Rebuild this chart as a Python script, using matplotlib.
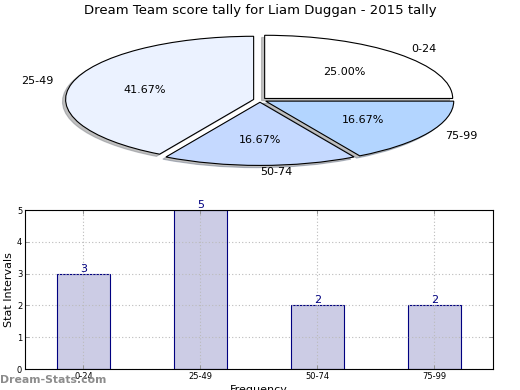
import matplotlib
matplotlib.use("Agg")
import matplotlib.pyplot as plt

categories = ["0-24", "25-49", "50-74", "75-99"]
counts = [3, 5, 2, 2]
pie_colors = ["#ffffff", "#ebf2ff", "#c5d9ff", "#b3d5ff"]
yticks = [0, 1, 2, 3, 4, 5]

fig = plt.figure(figsize=(5.2, 3.9), dpi=100)

# Pie
axp = fig.add_axes([0.048, 0.541, 0.904, 0.405])
wedges, texts, autotexts = axp.pie(
    counts, labels=categories, colors=pie_colors, autopct="%1.2f%%",
    explode=[0.035] * len(counts),
    shadow={"ox": -0.012, "oy": -0.025, "shade": 0.45, "facecolor": "#808080"},
    startangle=0,
    wedgeprops=dict(edgecolor="black", linewidth=0.8),
    textprops=dict(fontsize=8))
axp.set_aspect("auto")
axp.set_xlim(-1.25, 1.25)
axp.set_ylim(-1.25, 1.25)
fig.text(0.5, 0.973, "Dream Team score tally for Liam Duggan - 2015 tally",
         ha="center", va="center", fontsize=9.5)

# Bars
axb = fig.add_axes([0.048, 0.0538, 0.9, 0.4077])
x = list(range(len(categories)))
axb.bar(x, counts, width=0.45, color="#cccce5", edgecolor="#000080", linewidth=0.8, zorder=2)
for xi, c in zip(x, counts):
    axb.text(xi, c, str(c), ha="center", va="bottom", color="#000080", fontsize=8, zorder=3)
axb.set_xlim(-0.5, len(categories) - 0.5)
axb.set_ylim(0, 5)
axb.set_xticks(x)
axb.set_xticklabels(categories, fontsize=6)
axb.set_yticks(yticks)
axb.set_yticklabels([str(t) for t in yticks], fontsize=6)
axb.tick_params(direction="in", length=3, top=True, right=True, pad=2, width=0.6, color="#888888")
axb.grid(True, linestyle=(0, (1, 2)), color="#bbbbbb", linewidth=0.8)
axb.set_axisbelow(False)
for sp in axb.spines.values():
    sp.set_zorder(10)
axb.set_ylabel("Stat Intervals", fontsize=8, labelpad=2)
axb.set_xlabel("Frequency", fontsize=8, labelpad=3)

fig.text(0.0, 0.025, "Dream-Stats.com", color="#8c8c8c", fontsize=7.8,
         fontweight="bold", ha="left", va="center")

fig.savefig("out.png", dpi=100)
